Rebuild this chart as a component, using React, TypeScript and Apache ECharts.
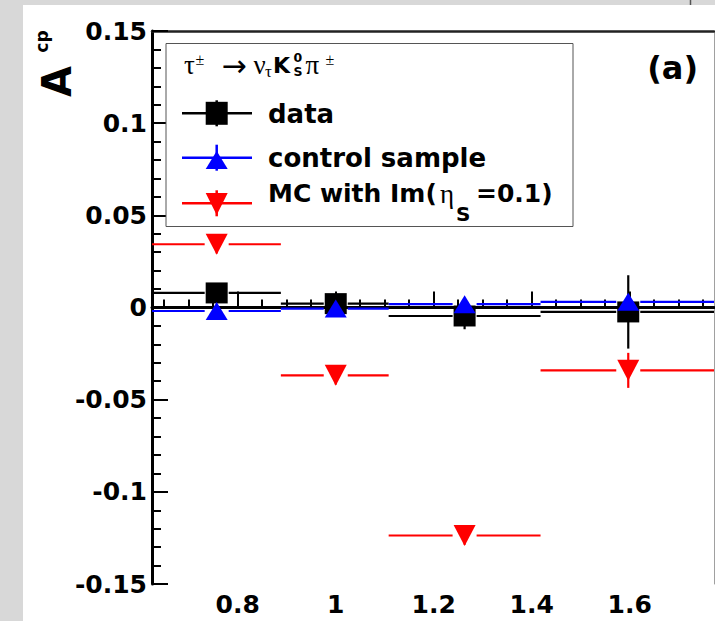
import { useEffect, useRef } from "react";
import * as echarts from "echarts";

// ---- data ----
const binEdges = [0.625, 0.888, 1.108, 1.418, 1.772];
const binCenters = [0.757, 1.0, 1.263, 1.597];

const dataValues = [0.0079, 0.0021, -0.0046, -0.0024];
const dataErrors = [0.003, 0.005, 0.0072, 0.0199];

const controlValues = [-0.0019, -0.0006, 0.0018, 0.0031];
const controlErrors = [0.003, 0.003, 0.003, 0.004];

const mcValues = [0.0343, -0.0368, -0.1237, -0.0341];
const mcErrors = [0.005, 0.005, 0.005, 0.0095];

const xMajorTicks = [0.8, 1.0, 1.2, 1.4, 1.6];
const xMinorTicks = [0.65, 0.7, 0.75, 0.85, 0.9, 0.95, 1.05, 1.1, 1.15, 1.25, 1.3, 1.35, 1.45, 1.5, 1.55, 1.65, 1.7, 1.75];
const zeroLine = [[0.625, 0], [1.772, 0]];

const legendLabels = ["data", "control sample", "MC with Im("];

const SANS = "DejaVu Sans";
const SERIF = "Liberation Serif";

function rows(values: number[], errors: number[]) {
  return values.map((v, i) => [binEdges[i], binEdges[i + 1], binCenters[i], v, errors[i]]);
}

function markerShape(kind: string, cx: number, cy: number, w: number, h: number, color: string): any {
  if (kind === "square") {
    return { type: "rect", shape: { x: cx - w / 2, y: cy - h / 2, width: w, height: h }, style: { fill: color } };
  }
  if (kind === "up") {
    return {
      type: "polygon",
      shape: { points: [[cx, cy - h / 2], [cx - w / 2, cy + h / 2], [cx + w / 2, cy + h / 2]] },
      style: { fill: color },
    };
  }
  return {
    type: "polygon",
    shape: { points: [[cx - w / 2, cy - h / 2], [cx + w / 2, cy - h / 2], [cx, cy + h / 2]] },
    style: { fill: color },
  };
}

function makeRender(color: string, kind: string, w: number, h: number) {
  return (_params: any, api: any) => {
    const xlo = api.value(0), xhi = api.value(1), xc = api.value(2), y = api.value(3), e = api.value(4);
    const lo = api.coord([xlo, y]);
    const hi = api.coord([xhi, y]);
    const c = api.coord([xc, y]);
    const top = api.coord([xc, y + e]);
    const bot = api.coord([xc, y - e]);
    const gap = w / 2 + 1;
    const ls = { stroke: color, lineWidth: 2.2 };
    return {
      type: "group",
      children: [
        { type: "line", shape: { x1: lo[0], y1: c[1], x2: c[0] - gap, y2: c[1] }, style: ls },
        { type: "line", shape: { x1: c[0] + gap, y1: c[1], x2: hi[0], y2: c[1] }, style: ls },
        { type: "line", shape: { x1: c[0], y1: top[1], x2: c[0], y2: bot[1] }, style: ls },
        markerShape(kind, c[0], c[1], w, h, color),
      ],
    };
  };
}

function legendEntry(y: number, color: string, kind: string, w: number, h: number, my: number): any[] {
  const ls = { stroke: color, lineWidth: 2.5 };
  return [
    { type: "line", z: 101, shape: { x1: 182, y1: y, x2: 252, y2: y }, style: ls },
    { type: "line", z: 101, shape: { x1: 216.7, y1: y - 13, x2: 216.7, y2: y + 13 }, style: ls },
    { ...markerShape(kind, 216.7, my, w, h, color), z: 102 },
  ];
}

function txt(text: string, x: number, y: number, size: number, family: string, bold: boolean, extra: any = {}): any {
  return {
    type: "text",
    z: 103,
    x,
    y,
    ...extra,
    style: {
      text,
      fill: "#000",
      font: `${bold ? "bold " : ""}${size}px '${family}'`,
      align: extra.align || "left",
      verticalAlign: "middle",
    },
  };
}

export default function App() {
  const ref = useRef<HTMLDivElement>(null);
  useEffect(() => {
    document.body.style.margin = "0";
    const chart = echarts.init(ref.current!, null, { renderer: "svg" });
    const labelStyle = { fontFamily: SANS, fontWeight: "bold", fontSize: 25, color: "#000" };
    const option: any = {
      animation: false,
      backgroundColor: "#ffffff",
      grid: { left: 152, right: 1, top: 31, bottom: 37, show: false },
      xAxis: [
        {
          type: "value",
          min: 0.625,
          max: 1.772,
          position: "bottom",
          axisLine: { lineStyle: { color: "#000", width: 3 } },
          axisTick: { inside: true, length: 16, customValues: xMajorTicks, lineStyle: { color: "#000", width: 2 } },
          axisLabel: { ...labelStyle, fontSize: 25, margin: 8, customValues: xMajorTicks },
          splitLine: { show: false },
        },
        {
          type: "value",
          min: 0.625,
          max: 1.772,
          position: "bottom",
          axisLine: { show: false },
          axisTick: { inside: true, length: 8, customValues: xMinorTicks, lineStyle: { color: "#000", width: 2 } },
          axisLabel: { show: false },
          splitLine: { show: false },
        },
        {
          type: "value",
          min: 0.625,
          max: 1.772,
          position: "top",
          axisLine: { lineStyle: { color: "#222", width: 2.5 } },
          axisTick: { show: false },
          axisLabel: { show: false },
          splitLine: { show: false },
        },
      ],
      yAxis: [
        {
          type: "value",
          min: -0.15,
          max: 0.15,
          interval: 0.05,
          position: "left",
          axisLine: { show: true, lineStyle: { color: "#000", width: 3 } },
          axisTick: { show: true, inside: true, length: 16, lineStyle: { color: "#000", width: 2 } },
          minorTick: { show: true, splitNumber: 5, length: 9, lineStyle: { color: "#000", width: 2 } },
          axisLabel: { ...labelStyle, margin: 5 },
          splitLine: { show: false },
        },
        {
          type: "value",
          min: -0.15,
          max: 0.15,
          position: "right",
          axisLine: { show: true, lineStyle: { color: "#a0a0a0", width: 1 } },
          axisTick: { show: false },
          axisLabel: { show: false },
          splitLine: { show: false },
        },
      ],
      series: [
        {
          type: "line",
          data: zeroLine,
          symbol: "none",
          lineStyle: { color: "#000", width: 1.3, type: [3, 3] },
          z: 1,
        },
        {
          name: "data",
          type: "custom",
          renderItem: makeRender("#000000", "square", 22, 21),
          data: rows(dataValues, dataErrors),
          encode: { x: [0, 1, 2], y: [3] },
          z: 3,
        },
        {
          name: "control sample",
          type: "custom",
          renderItem: makeRender("#0000ff", "up", 22, 18),
          data: rows(controlValues, controlErrors),
          encode: { x: [0, 1, 2], y: [3] },
          z: 4,
        },
        {
          name: "MC with Im(ηS=0.1)",
          type: "custom",
          renderItem: makeRender("#ff0000", "down", 22, 21),
          data: rows(mcValues, mcErrors),
          encode: { x: [0, 1, 2], y: [3] },
          z: 5,
        },
      ],
      graphic: [
        { type: "rect", z: 100, shape: { x: 0, y: 0, width: 23, height: 621 }, style: { fill: "#d8d8d8" } },
        { type: "rect", z: 100, shape: { x: 0, y: 0, width: 715, height: 5 }, style: { fill: "#d8d8d8" } },
        { type: "line", z: 101, shape: { x1: 690.5, y1: 0, x2: 690.5, y2: 5 }, style: { stroke: "#555", lineWidth: 1.5 } },
        // y axis title A^cp
        txt("A", 57, 81.5, 40, SANS, true, { rotation: Math.PI / 2, align: "center" }),
        txt("cp", 41.5, 41.5, 17, SANS, true, { rotation: Math.PI / 2, align: "center" }),
        // panel label
        txt("(a)", 698, 68, 32, SANS, true, { align: "right" }),
        // legend box
        {
          type: "rect",
          z: 100,
          shape: { x: 166, y: 43.5, width: 407, height: 183 },
          style: { fill: "#ffffff", stroke: "#555", lineWidth: 1 },
        },
        // legend title: τ± → ντ K0S π±
        txt("τ", 184, 65, 27, SERIF, false),
        txt("±", 195.5, 59.5, 16, SERIF, false),
        txt("→", 221.5, 65, 30, SANS, false),
        txt("ν", 253.5, 65, 27, SERIF, false),
        txt("τ", 265, 71, 17, SERIF, false),
        txt("K", 273, 65.7, 22, SANS, true),
        txt("0", 293.5, 57.3, 12.5, SANS, true),
        txt("S", 293.5, 71.5, 12.5, SANS, true),
        txt("π", 305.5, 65, 27, SERIF, false),
        txt("±", 325.5, 59.5, 16, SERIF, false),
        // legend entries
        ...legendEntry(113.3, "#000000", "square", 22, 23, 113.3),
        txt(legendLabels[0], 268, 113.7, 26, SANS, true),
        ...legendEntry(157.7, "#0000ff", "up", 22, 18, 160),
        txt(legendLabels[1], 268, 157.7, 26, SANS, true),
        ...legendEntry(203.3, "#ff0000", "down", 22, 22, 204),
        txt(legendLabels[2], 268, 193, 25, SANS, true),
        txt("η", 440, 194, 27, SERIF, false),
        txt("S", 456, 214, 20, SANS, true),
        txt("=0.1)", 476, 193, 25, SANS, true),
      ],
    };
    chart.setOption(option);
    return () => chart.dispose();
  }, []);
  return <div ref={ref} style={{ width: 715, height: 621, overflow: "hidden" }} />;
}
